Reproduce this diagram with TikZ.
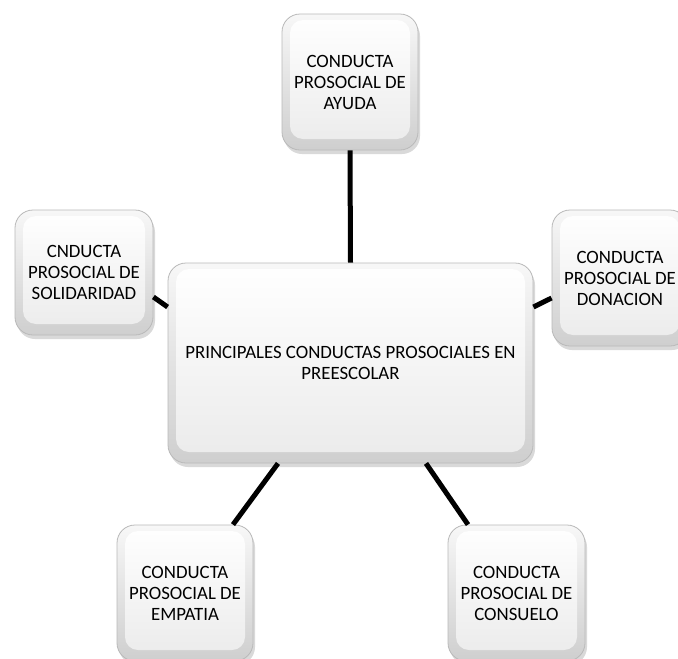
\documentclass[tikz,border=0pt]{standalone}
\usepackage{fontspec}
\setmainfont{Carlito}
\usetikzlibrary{shadows}
\begin{document}
\begin{tikzpicture}[x=1pt,y=-1pt,
  box/.style={rounded corners=18pt, draw=gray!55, line width=0.8pt,
    top color=gray!6, bottom color=gray!38,
    drop shadow={shadow xshift=2pt, shadow yshift=-4pt, opacity=0.3, fill=gray},
    align=center, inner sep=0pt, text=black,
    font=\fontsize{18.8}{21}\selectfont,
    path picture={\shade[top color=white, bottom color=gray!16, rounded corners=13pt]
      ([shift={(8pt,-6pt)}]path picture bounding box.north west) rectangle
      ([shift={(-8pt,11pt)}]path picture bounding box.south east);}},
  link/.style={line width=5pt, black}]
\useasboundingbox (0,0) rectangle (678,659);
\clip (0,0) rectangle (678,659);
\node[box, minimum width=365pt, minimum height=200pt] (main) at (350.5,363)
  {PRINCIPALES CONDUCTAS PROSOCIALES EN\\PREESCOLAR};
\node[box, minimum width=136pt, minimum height=136pt] (ayu) at (350,82)
  {CONDUCTA\\PROSOCIAL DE\\AYUDA};
\node[box, minimum width=138pt, minimum height=125pt] (sol) at (84,272.5)
  {CNDUCTA\\PROSOCIAL DE\\SOLIDARIDAD};
\node[box, minimum width=136pt, minimum height=136pt] (don) at (620,278)
  {CONDUCTA\\PROSOCIAL DE\\DONACION};
\node[box, minimum width=136pt, minimum height=136pt] (emp) at (185,593)
  {CONDUCTA\\PROSOCIAL DE\\EMPATIA};
\node[box, minimum width=137pt, minimum height=136pt] (con) at (516.5,593)
  {CONDUCTA\\PROSOCIAL DE\\CONSUELO};
\draw[link] (ayu.south) -- (main.north);
\draw[link] ([yshift=-24.5pt]sol.east) -- ([yshift=56pt]main.west);
\draw[link] ([yshift=-20pt]don.west) -- ([yshift=56pt]main.east);
\draw[link] ([xshift=48pt]emp.north) -- ([xshift=-72.5pt]main.south);
\draw[link] ([xshift=-48.5pt]con.north) -- ([xshift=75.5pt]main.south);
\end{tikzpicture}
\end{document}
